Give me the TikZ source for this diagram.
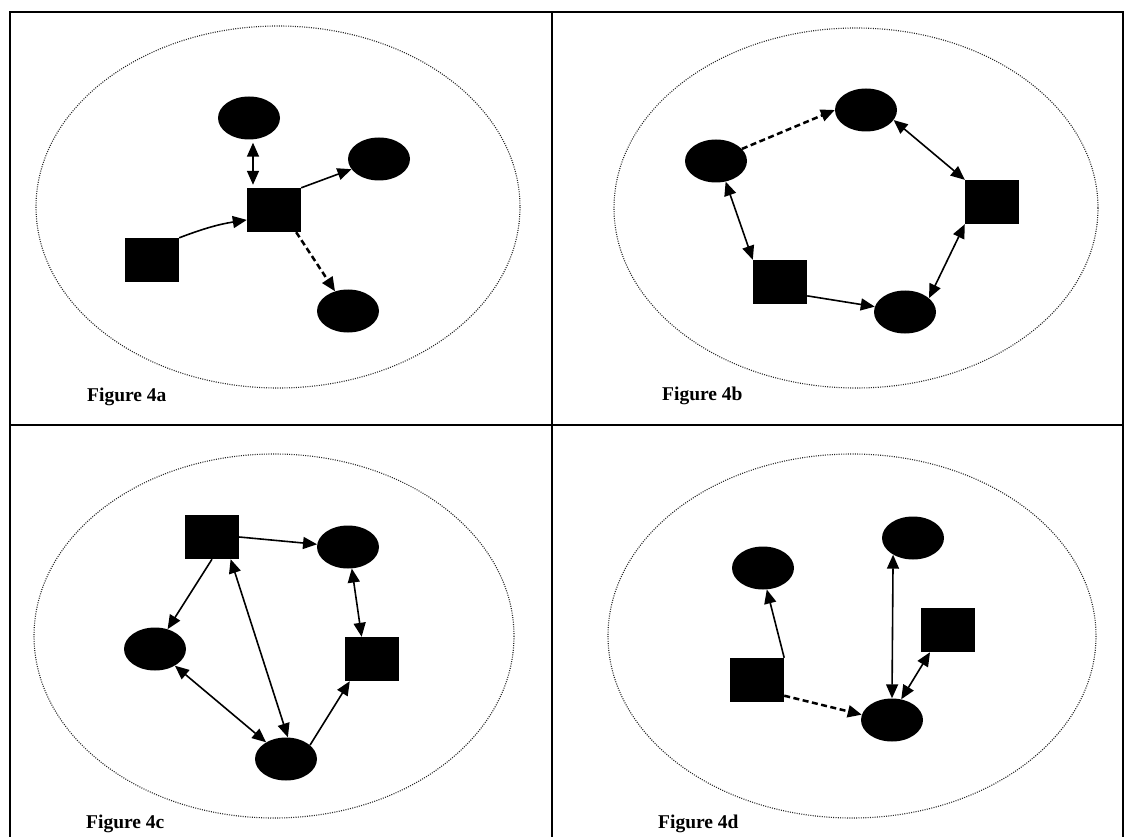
\documentclass[tikz,border=0pt]{standalone}
\usepackage{fontspec}
\setmainfont{Liberation Serif}
\usetikzlibrary{arrows.meta,shapes.geometric}
\begin{document}
\begin{tikzpicture}[x=1pt,y=-1pt,
  >={Triangle[length=14pt,width=12pt]},
  frame/.style={line width=1.8pt,black},
  bigell/.style={line width=1.1pt,black!85,dash pattern=on 1pt off 1.3pt},
  onode/.style={ellipse,fill=black,inner sep=0pt,minimum width=62pt,minimum height=43pt},
  snode/.style={rectangle,fill=black,inner sep=0pt,minimum width=54pt,minimum height=44pt},
  con/.style={line width=1.6pt},
  dcon/.style={line width=2.5pt,dash pattern=on 6pt off 3.5pt},
  figlabel/.style={anchor=base west,inner sep=0pt,font=\fontsize{19.5}{19.5}\selectfont\bfseries}]
\useasboundingbox (0,0) rectangle (1125,837);
% frame
\draw[frame] (10,837) -- (10,12) -- (1123,12) -- (1123,837);
\draw[frame] (552,12) -- (552,837);
\draw[frame] (10,425) -- (1123,425);
% ---------- 4a
\draw[bigell] (278,207) ellipse [x radius=242, y radius=181];
\node[onode] (a1) at (249,118) {};
\node[onode] (a2) at (379,159) {};
\node[snode] (a3) at (274,210) {};
\node[snode] (a4) at (152,260) {};
\node[onode] (a5) at (348,311) {};
\draw[con,<->,shorten <=3pt,shorten >=3pt] ([xshift=4pt]a1.south) -- ([xshift=4pt]a1.south |- a3.north);
\draw[con,->] (a3.north east) -- (a2);
\draw[con,->] (a4.north east) to[bend left=6] (a3.-160);
\draw[dcon,->] ([xshift=-5pt]a3.south east) -- (a5);
\node[figlabel] (la) at (87,401) {Figure 4a};
% ---------- 4b
\draw[bigell] (856,208) ellipse [x radius=242, y radius=180];
\node[onode] (b1) at (866,110) {};
\node[onode] (b2) at (716,161) {};
\node[snode] (b3) at (992,202) {};
\node[snode] (b4) at (780,282) {};
\node[onode] (b5) at (905,312) {};
\draw[dcon,->] (b2.25) -- (b1.west);
\draw[con,<->] (b1.-20) -- (b3.north west);
\draw[con,<->] (b2.-65) -- (b4.north west);
\draw[con,->] (b4.-27) -- (b5.170);
\draw[con,<->] (b3.south west) -- (b5.30);
\node[figlabel] (lb) at (662,400) {Figure 4b};
% ---------- 4c
\draw[bigell] (274,636) ellipse [x radius=240, y radius=182];
\node[snode] (c1) at (212,537) {};
\node[onode] (c2) at (348,547) {};
\node[onode] (c3) at (155,649) {};
\node[snode] (c4) at (372,659) {};
\node[onode] (c5) at (286,759) {};
\draw[con,->] (c1.east) -- (c2.175);
\draw[con,->] (c1.south) -- (c3);
\draw[con,<->] (c1.-50) -- (c5.85);
\draw[con,<->] (c2.-80) -- (c4.115);
\draw[con,<->] (c3.-40) -- (c5.140);
\draw[con,->] (c5.30) -- (c4.-135);
\node[figlabel] (lc) at (86,828) {Figure 4c};
% ---------- 4d
\draw[bigell] (852,636) ellipse [x radius=244, y radius=182];
\node[onode] (d1) at (763,568) {};
\node[onode] (d2) at (913,538) {};
\node[snode] (d3) at (948,630) {};
\node[snode] (d4) at (757,680) {};
\node[onode] (d5) at (892,720) {};
\draw[con,->] (d4.north east) -- (d1.-80);
\draw[con,<->] (d2.-140) -- (d5.north);
\draw[con,<->] (d3.-129) -- (d5.66);
\draw[dcon,->] (d4.-30) -- (d5.170);
\node[figlabel] (ld) at (658,828) {Figure 4d};
\end{tikzpicture}
\end{document}
